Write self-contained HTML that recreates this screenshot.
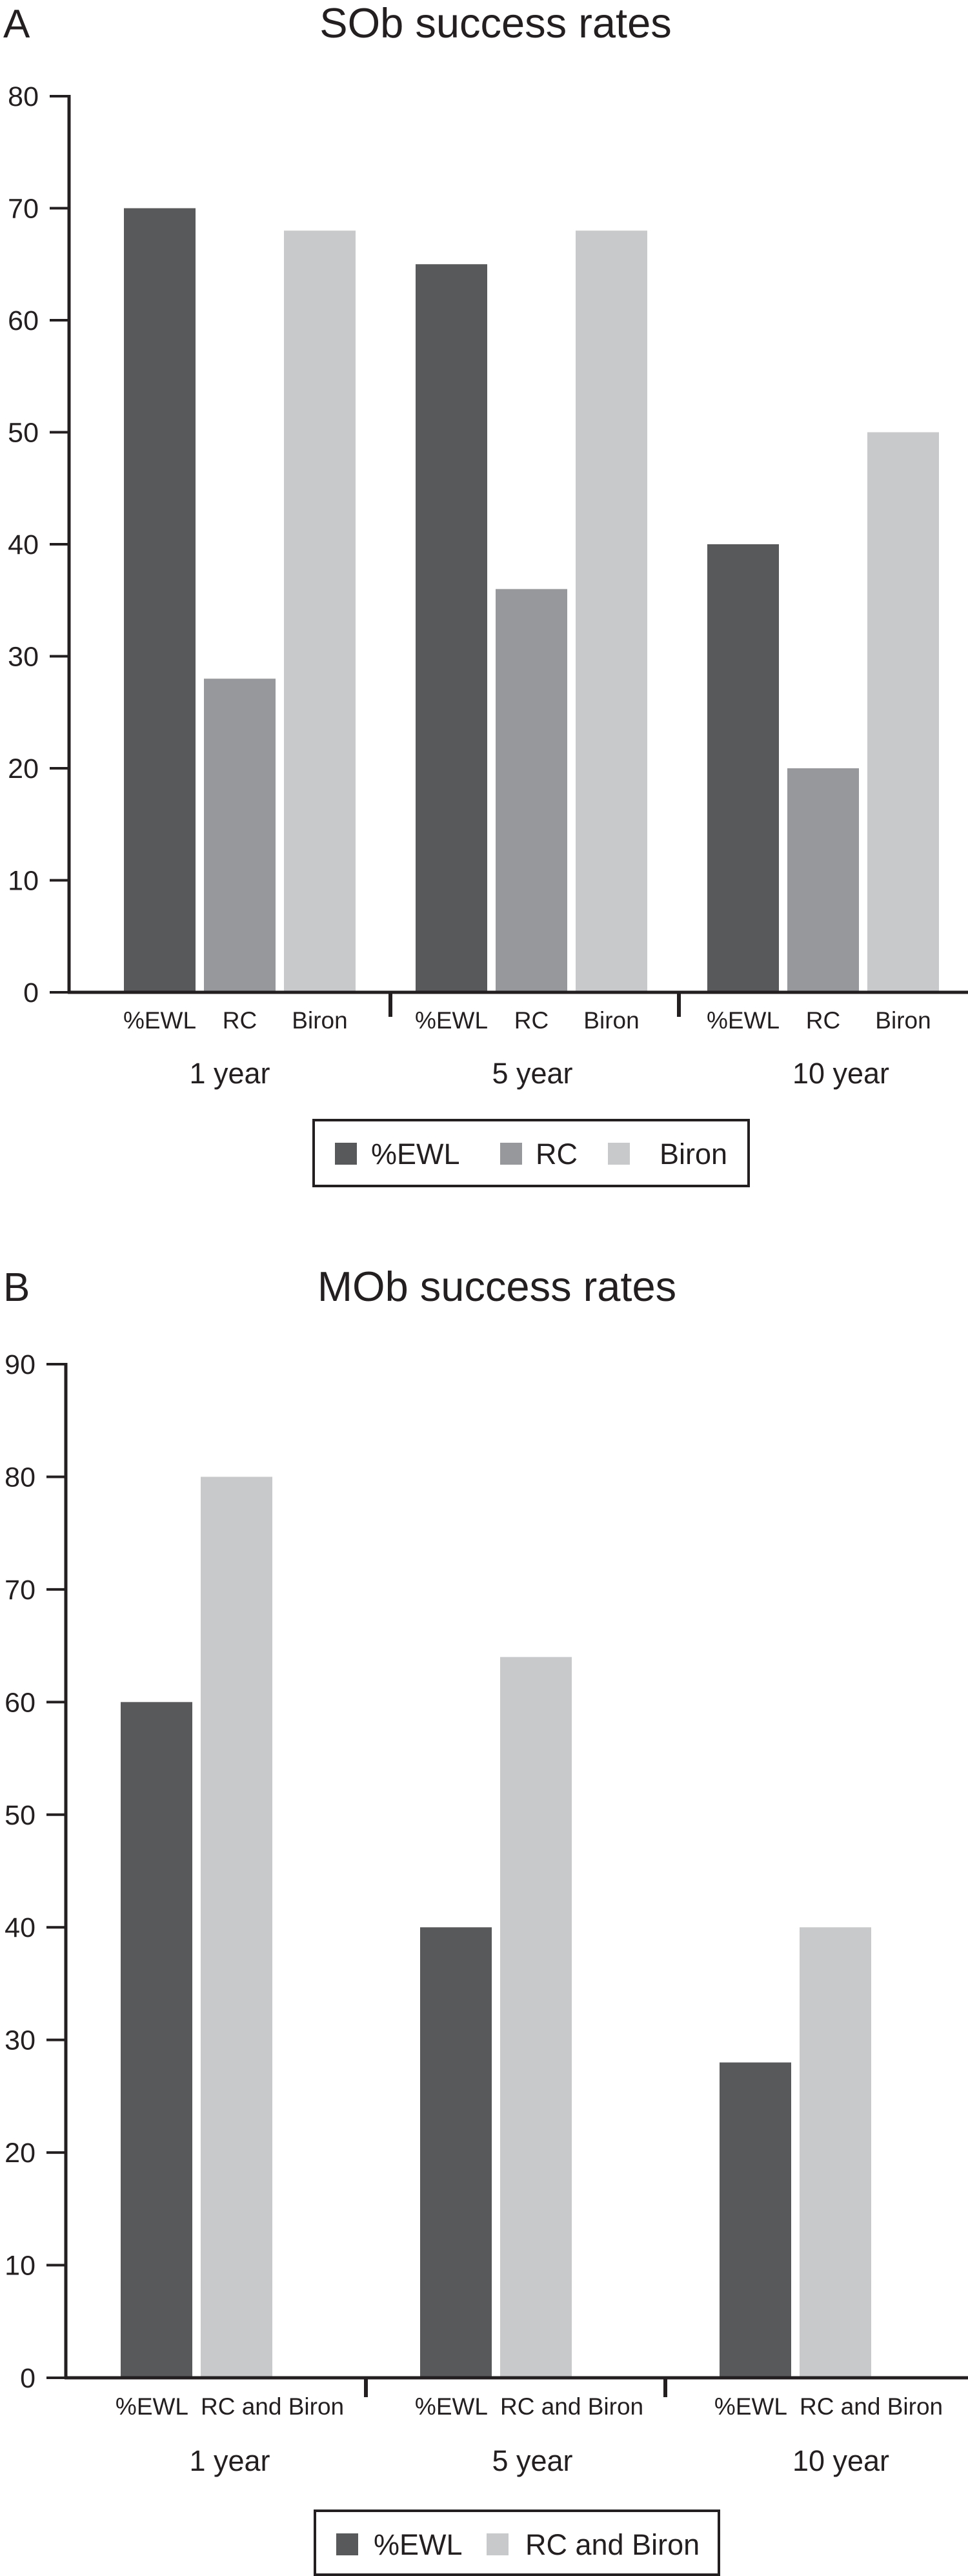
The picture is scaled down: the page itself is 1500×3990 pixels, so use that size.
<!DOCTYPE html>
<html><head><meta charset="utf-8">
<style>
html,body{margin:0;padding:0;background:#fff;}
svg{display:block;font-family:"Liberation Sans",Arial,sans-serif;}
</style></head>
<body>
<svg id="chart" width="1500" height="3990" viewBox="0 0 1500 3990" xmlns="http://www.w3.org/2000/svg">
<text x="5" y="58" font-size="62" fill="#231f20">A</text>
<text x="768" y="58" font-size="65" text-anchor="middle" fill="#231f20">SOb success rates</text>
<text x="5" y="2015" font-size="62" fill="#231f20">B</text>
<text x="770" y="2015" font-size="65" text-anchor="middle" fill="#231f20">MOb success rates</text>
</svg>
<script>
const categories = ["1 year", "5 year", "10 year"];
const seriesA = ["%EWL", "RC", "Biron"];
const valuesA_EWL = [70, 65, 40];
const valuesA_RC = [28, 36, 20];
const valuesA_Biron = [68, 68, 50];
const ticksA = [0, 10, 20, 30, 40, 50, 60, 70, 80];
const seriesB = ["%EWL", "RC and Biron"];
const valuesB_EWL = [60, 40, 28];
const valuesB_RCB = [80, 64, 40];
const ticksB = [0, 10, 20, 30, 40, 50, 60, 70, 80, 90];

const NS = "http://www.w3.org/2000/svg";
const svg = document.getElementById("chart");
const colors = ["#58595b", "#97989b", "#c8c9cb"];
function mk(tag, attrs, txt) {
  const e = document.createElementNS(NS, tag);
  for (const k in attrs) e.setAttribute(k, attrs[k]);
  if (txt !== undefined) e.textContent = txt;
  svg.appendChild(e);
  return e;
}

function drawChart(cfg) {
  const y = v => cfg.y0 - (v / cfg.vmax) * (cfg.y0 - cfg.yTop);
  const gx = i => cfg.x0 + i * cfg.step;
  const bw = 111, bstep = 124;
  let e = mk("line", {x1: cfg.ax, y1: y(cfg.vmax) - 2, x2: cfg.ax, y2: cfg.y0 + 2, stroke: "#231f20", "stroke-width": 5});
  
  
  cfg.ticks.forEach(t => {
    const l = mk("line", {x1: cfg.ax - 30, y1: y(t), x2: cfg.ax, y2: y(t), stroke: "#231f20", "stroke-width": 4});
    
    
    const tx = mk("text", {x: cfg.ax - 47, y: y(t) + 15, "font-size": 43, "text-anchor": "end", fill: "#231f20"}, String(t));
    
    
  });
  cfg.series.forEach((vals, s) => {
    vals.forEach((v, i) => {
      const bx = gx(i) + s * bstep;
      const r = mk("rect", {x: bx, y: y(v), width: bw, height: cfg.y0 - y(v), fill: cfg.colors[s]});
      
      
      let lx = bx + bw / 2, anchor = "middle";
      if (cfg.labelMode === "split") {
        if (s === 0) { lx = bx + bw - 6; anchor = "end"; } else { lx = bx; anchor = "start"; }
      }
      const sl = mk("text", {x: lx, y: cfg.subY + 13, "font-size": 37, "text-anchor": anchor, fill: "#231f20"}, cfg.names[s]);
      
      
    });
  });
  e = mk("line", {x1: cfg.ax - 2, y1: cfg.y0, x2: 1500, y2: cfg.y0, stroke: "#231f20", "stroke-width": 5});
  
  
  cfg.seps.forEach(sx => {
    const l = mk("line", {x1: sx, y1: cfg.y0, x2: sx, y2: cfg.y0 + cfg.sepLen, stroke: "#231f20", "stroke-width": 6});
    
    
  });
  categories.forEach((c, i) => {
    const t = mk("text", {x: cfg.catX(i), y: cfg.catY + 16, "font-size": 45, "text-anchor": "middle", fill: "#231f20"}, c);
    
    
  });
  const L = cfg.legend;
  const box = mk("rect", {x: L.x, y: L.y, width: L.w, height: L.h, fill: "none", stroke: "#231f20", "stroke-width": 4});
  
  
  cfg.names.forEach((n, s) => {
    const sw = mk("rect", {x: L.sx[s], y: L.sy, width: 34, height: 34, fill: cfg.colors[s]});
    
    
    const t = mk("text", {x: L.tx[s], y: L.sy + 33, "font-size": 45, fill: "#231f20"}, n);
    
    
  });
}

drawChart({
  id: "chart-a", ax: 107, y0: 1537, yTop: 149, vmax: 80, ticks: ticksA,
  x0: 192, step: 452, names: seriesA, colors: colors,
  series: [valuesA_EWL, valuesA_RC, valuesA_Biron],
  subY: 1580, catY: 1662, catX: i => [356, 825, 1303][i],
  seps: [605, 1052], sepLen: 38, labelMode: "center",
  legend: {x: 486, y: 1735, w: 674, h: 102, sx: [519, 775, 942], sy: 1770, tx: [575, 830, 1022]}
});
drawChart({
  id: "chart-b", ax: 102, y0: 3683, yTop: 2113, vmax: 90, ticks: ticksB,
  x0: 187, step: 464, names: seriesB, colors: [colors[0], colors[2]],
  series: [valuesB_EWL, valuesB_RCB],
  subY: 3727, catY: 3811, catX: i => [356, 825, 1303][i],
  seps: [567, 1031], sepLen: 30, labelMode: "split",
  legend: {x: 488, y: 3889, w: 626, h: 99, sx: [521, 754], sy: 3924, tx: [579, 814]}
});
</script>
</body></html>
